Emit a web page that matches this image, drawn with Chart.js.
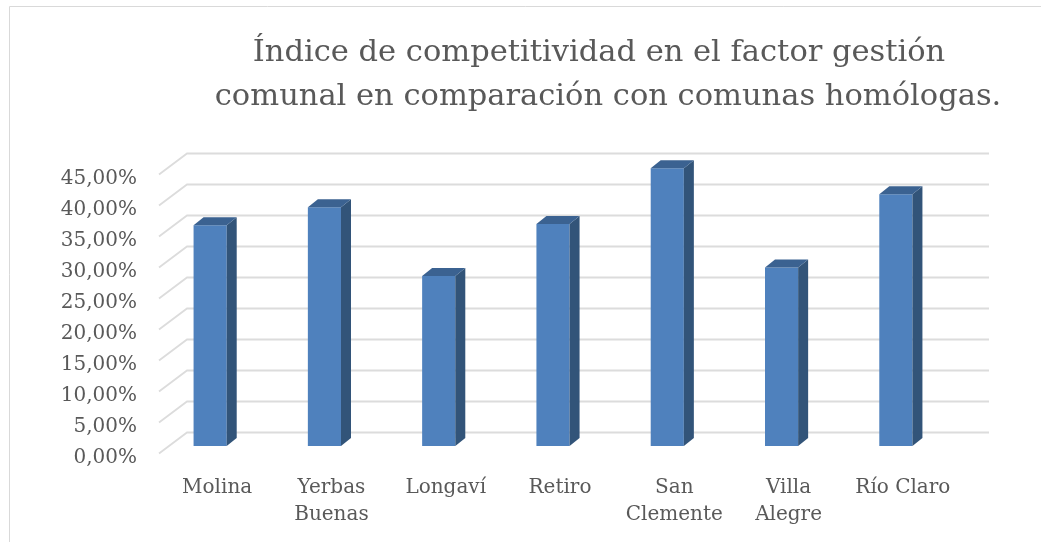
<!DOCTYPE html>
<html>
<head>
<meta charset="utf-8">
<script src="https://cdn.jsdelivr.net/npm/chart.js@4.4.1/dist/chart.umd.min.js"></script>
<style>
  html, body { margin: 0; padding: 0; background: #fff; }
  #wrap { width: 1041px; height: 542px; position: relative; }
</style>
</head>
<body>
<div id="wrap"><canvas id="chart" width="1041" height="542"></canvas></div>
<script>
// data
const categories = ['Molina', ['Yerbas', 'Buenas'], 'Longaví', 'Retiro', ['San', 'Clemente'], ['Villa', 'Alegre'], 'Río Claro'];
const values = [35.6, 38.5, 27.4, 35.8, 44.8, 28.8, 40.6];
const yMax = 45;
const yStep = 5;
const titleLines = ['Índice de competitividad en el factor gestión', 'comunal en comparación con comunas homólogas.'];

const textColor = '#595959';
const fontFamily = '"DejaVu Serif", serif';

// fake 3D: back wall gridlines + side/top faces on each bar
const depth = { dx: 10, dy: 8 };

const fake3d = {
    id: 'fake3d',
    beforeDraw(chart) {
        const ctx = chart.ctx;
        ctx.save();
        ctx.strokeStyle = '#d9d9d9';
        ctx.lineWidth = 1;
        ctx.beginPath();
        ctx.moveTo(9.5, 542);
        ctx.lineTo(9.5, 6.5);
        ctx.lineTo(1041, 6.5);
        ctx.stroke();
        ctx.restore();
    },
    beforeDatasetsDraw(chart) {
        const ctx = chart.ctx;
        const area = chart.chartArea;
        const y = chart.scales.y;
        ctx.save();
        ctx.strokeStyle = '#dcdcdc';
        ctx.lineWidth = 1.8;
        for (let v = 0; v <= yMax; v += yStep) {
            const py = y.getPixelForValue(v);
            ctx.beginPath();
            ctx.moveTo(area.left + 6, py + 7.5);
            ctx.lineTo(area.left + 34, py - 13.5);
            ctx.lineTo(area.right + 36, py - 13.5);
            ctx.stroke();
        }
        ctx.restore();
    },
    afterDatasetsDraw(chart) {
        const ctx = chart.ctx;
        const meta = chart.getDatasetMeta(0);
        ctx.save();
        meta.data.forEach(bar => {
            const left = bar.x - bar.width / 2;
            const right = bar.x + bar.width / 2;
            const top = bar.y;
            const base = bar.base;
            // side
            ctx.fillStyle = '#325479';
            ctx.beginPath();
            ctx.moveTo(right, top);
            ctx.lineTo(right + depth.dx, top - depth.dy);
            ctx.lineTo(right + depth.dx, base - depth.dy);
            ctx.lineTo(right, base);
            ctx.closePath();
            ctx.fill();
            // top
            ctx.fillStyle = '#3b6291';
            ctx.beginPath();
            ctx.moveTo(left, top);
            ctx.lineTo(left + depth.dx, top - depth.dy);
            ctx.lineTo(right + depth.dx, top - depth.dy);
            ctx.lineTo(right, top);
            ctx.closePath();
            ctx.fill();
        });
        ctx.restore();
    },
    afterDraw(chart) {
        const ctx = chart.ctx;
        ctx.save();
        ctx.fillStyle = textColor;
        ctx.font = '30.5px ' + fontFamily;
        ctx.textAlign = 'center';
        ctx.textBaseline = 'alphabetic';
        ctx.fillText(titleLines[0], 599, 61);
        ctx.fillText(titleLines[1], 608, 105);
        ctx.restore();
    }
};

const ctx = document.querySelector('#chart').getContext('2d');
const chart = new Chart(ctx, {
    type: 'bar',
    data: {
        labels: categories,
        datasets: [{
            label: 'Índice',
            data: values,
            backgroundColor: '#4f81bd',
            borderWidth: 0,
            barPercentage: 0.29,
            categoryPercentage: 1,
        }]
    },
    options: {
        responsive: false,
        animation: false,
        layout: {
            padding: { top: 167, right: 88, left: 0, bottom: 0 }
        },
        scales: {
            x: {
                grid: { display: false, drawTicks: false },
                border: { display: false },
                ticks: {
                    color: textColor,
                    font: { family: fontFamily, size: 20, lineHeight: 1.35 },
                    padding: 28,
                    labelOffset: 7,
                    maxRotation: 0,
                    autoSkip: false,
                },
                afterFit(scale) { scale.height = 96; }
            },
            y: {
                min: 0,
                max: yMax,
                grid: { display: false, drawTicks: false },
                border: { display: false },
                ticks: {
                    stepSize: yStep,
                    color: textColor,
                    font: { family: fontFamily, size: 20 },
                    padding: 16,
                    labelOffset: 12,
                    callback: (v) => v.toFixed(2).replace('.', ',') + '%'
                },
                afterFit(scale) { scale.width = 153; }
            }
        },
        plugins: {
            legend: { display: false },
            title: { display: false },
            tooltip: { enabled: false }
        }
    },
    plugins: [fake3d]
});
</script>
</body>
</html>
